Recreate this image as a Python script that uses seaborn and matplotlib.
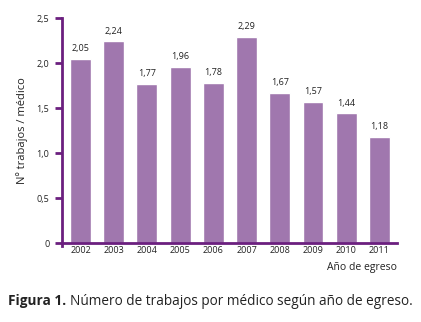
import matplotlib
matplotlib.use("Agg")
import matplotlib.pyplot as plt
import seaborn as sns
import pandas as pd

# Values
years = ["2002", "2003", "2004", "2005", "2006", "2007", "2008", "2009", "2010", "2011"]
trabajos = [2.05, 2.24, 1.77, 1.96, 1.78, 2.29, 1.67, 1.57, 1.44, 1.18]
y_ticks = [0, 0.5, 1.0, 1.5, 2.0, 2.5]
y_tick_labels = ["0", "0,5", "1,0", "1,5", "2,0", "2,5"]

bar_color = "#A077AE"
axis_color = "#6B1F7F"

sns.set_style("white")
plt.rcParams['font.family'] = ['Open Sans', 'DejaVu Sans']

df = pd.DataFrame({"year": years, "value": trabajos})

fig = plt.figure(figsize=(4.21, 3.22), dpi=100)
ax = fig.add_axes([0.147, 0.245, 0.796, 0.699])

sns.barplot(data=df, x="year", y="value", color=bar_color, width=0.63,
            saturation=1, ax=ax)

# value labels with decimal comma
ax.bar_label(ax.containers[0], labels=[f"{v:.2f}".replace(".", ",") for v in trabajos],
             padding=4, fontsize=6.5, color="#222222")

ax.set_ylim(0, 2.5)
ax.set_xlim(-0.56, 9.53)
ax.set_yticks(y_ticks)
ax.set_yticklabels(y_tick_labels, fontsize=6.5, color="#222222")
ax.tick_params(axis="x", length=0, pad=2, labelsize=6.5, labelcolor="#222222")
ax.tick_params(axis="y", length=5, width=2, color=axis_color, direction="out", pad=4, left=True)

for side in ["top", "right"]:
    ax.spines[side].set_visible(False)
for side in ["left", "bottom"]:
    ax.spines[side].set_color(axis_color)
    ax.spines[side].set_linewidth(2)
ax.spines["left"].set_bounds(-0.03, 2.5)

ax.set_xlabel("")
ax.set_ylabel("Nº trabajos / médico", fontsize=8, color="#222222", labelpad=6)

fig.text(0.943, 0.17, "Año de egreso", ha="right", va="center", fontsize=7.5, color="#222222")

# caption: bold part followed by regular part
t1 = fig.text(0.02, 0.065, "Figura 1.", ha="left", va="center", fontsize=9.8,
              fontweight="bold", color="#222222")
fig.canvas.draw()
bb = t1.get_window_extent(renderer=fig.canvas.get_renderer())
x2 = (bb.x1 + 3) / fig.bbox.width
fig.text(x2, 0.065, "Número de trabajos por médico según año de egreso.", ha="left", va="center",
         fontsize=9.8, color="#222222")

fig.savefig("out.png", dpi=100)
